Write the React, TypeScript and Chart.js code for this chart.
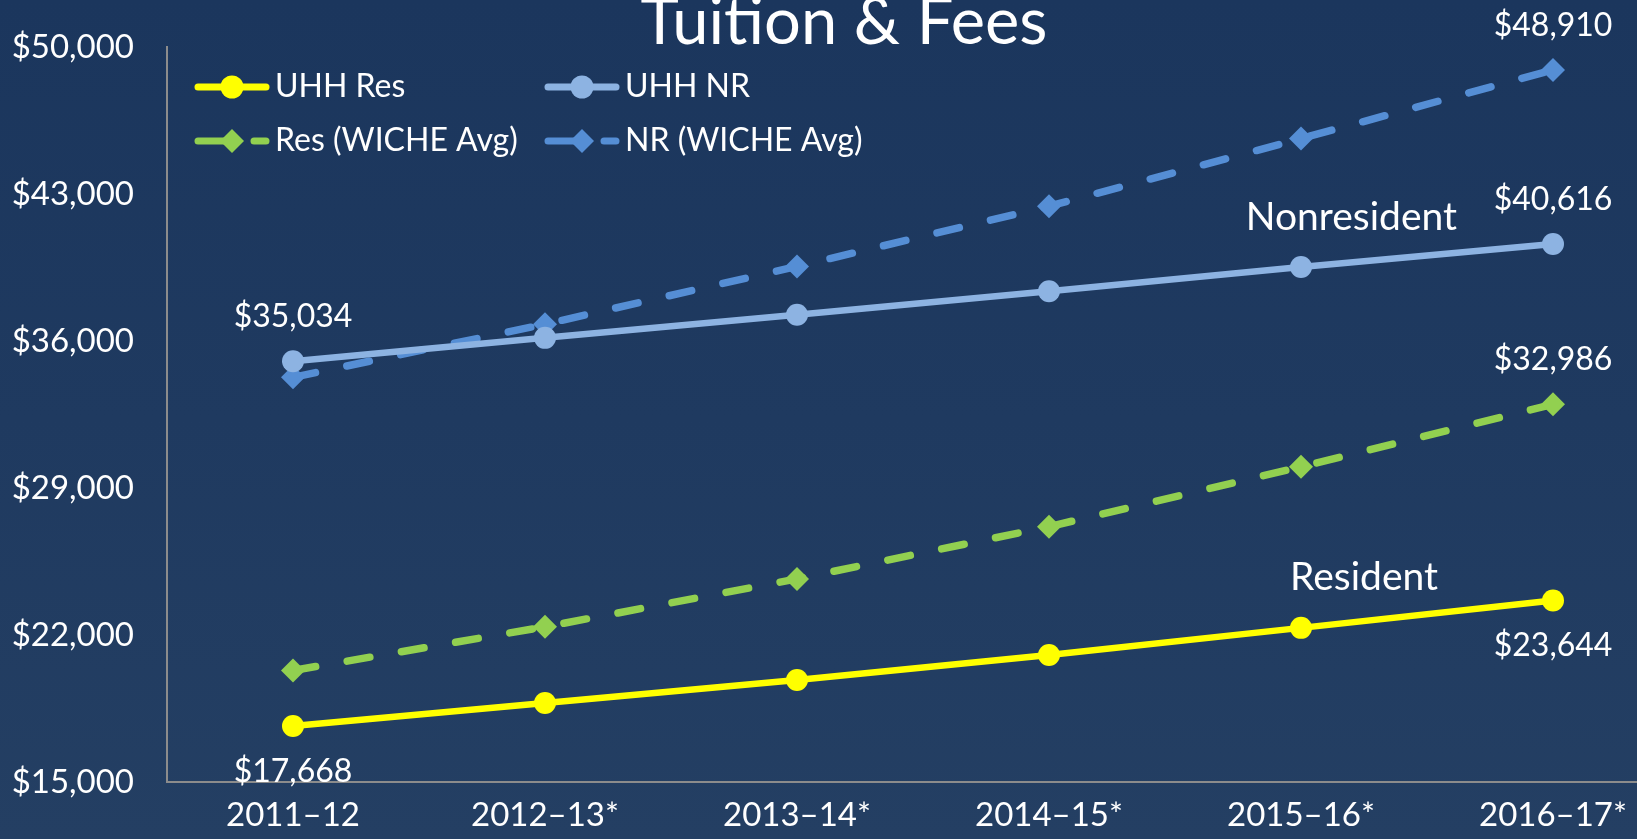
import React, { useEffect, useRef } from "react";
import { Chart, registerables } from "chart.js";

Chart.register(...registerables);

const categories = ["2011–12", "2012–13*", "2013–14*", "2014–15*", "2015–16*", "2016–17*"];
const uhhRes = [17668, 18760, 19860, 21050, 22340, 23644];
const uhhNr = [35034, 36150, 37250, 38370, 39520, 40616];
const resWiche = [20310, 22390, 24670, 27160, 30010, 32986];
const nrWiche = [34270, 36800, 39550, 42420, 45640, 48910];
const seriesNames = ["UHH Res", "UHH NR", "Res (WICHE Avg)", "NR (WICHE Avg)"];
const yMin = 15000;
const yMax = 50000;
const yStep = 7000;
const titleText = "Tuition & Fees";

const FONT = "Lato, 'Open Sans', sans-serif";
const fmt = (v: number) => "$" + v.toLocaleString("en-US");

export default function App() {
  const ref = useRef<HTMLCanvasElement>(null);

  useEffect(() => {
    document.body.style.margin = "0";
    const canvas = ref.current!;
    const toXY = (arr: number[]) => arr.map((y, i) => ({ x: i, y }));

    const overlay = {
      id: "overlay",
      afterDatasetsDraw(chart: any) {
        const ctx = chart.ctx;
        const xs = chart.scales.x;
        const ys = chart.scales.y;
        ctx.save();
        ctx.fillStyle = "#ffffff";

        // title
        ctx.font = `65px ${FONT}`;
        ctx.textAlign = "center";
        ctx.textBaseline = "alphabetic";
        ctx.fillText(titleText, 844, 44);

        // value labels at first / last points
        const labelSpecs = [
          { ds: 0, idx: 0, below: true },
          { ds: 0, idx: 5, below: true },
          { ds: 1, idx: 0, below: false },
          { ds: 1, idx: 5, below: false },
          { ds: 2, idx: 5, below: false },
          { ds: 3, idx: 5, below: false },
        ];
        ctx.font = `32px ${FONT}`;
        labelSpecs.forEach((s) => {
          const v = chart.data.datasets[s.ds].data[s.idx].y;
          const px = xs.getPixelForValue(s.idx);
          const py = ys.getPixelForValue(v);
          ctx.fillText(fmt(v), px, s.below ? py + 56 : py - 34);
        });

        // series annotations
        ctx.font = `39px ${FONT}`;
        ctx.fillText("Nonresident", xs.getPixelForValue(4.2), ys.getPixelForValue(41286));
        ctx.fillText("Resident", xs.getPixelForValue(4.25), ys.getPixelForValue(24143));

        // legend
        const spots = [
          [195, 87],
          [545, 87],
          [195, 141],
          [545, 141],
        ];
        ctx.textAlign = "left";
        ctx.font = `32px ${FONT}`;
        chart.data.datasets.forEach((d: any, i: number) => {
          const [lx, ly] = spots[i];
          const col = d.borderColor;
          ctx.strokeStyle = col;
          ctx.fillStyle = col;
          ctx.lineWidth = 7;
          ctx.lineCap = "round";
          ctx.beginPath();
          if (d.borderDash && d.borderDash.length) {
            ctx.moveTo(lx + 3, ly);
            ctx.lineTo(lx + 40, ly);
            ctx.moveTo(lx + 59, ly);
            ctx.lineTo(lx + 71, ly);
          } else {
            ctx.moveTo(lx + 3, ly);
            ctx.lineTo(lx + 71, ly);
          }
          ctx.stroke();
          const mx = lx + 37;
          ctx.beginPath();
          if (d.pointStyle === "rectRot") {
            ctx.moveTo(mx - 12, ly);
            ctx.lineTo(mx, ly - 12);
            ctx.lineTo(mx + 12, ly);
            ctx.lineTo(mx, ly + 12);
            ctx.closePath();
          } else {
            ctx.arc(mx, ly, 11.5, 0, Math.PI * 2);
          }
          ctx.fill();
          ctx.fillStyle = "#ffffff";
          ctx.textBaseline = "alphabetic";
          ctx.fillText(d.label, lx + 80, ly + 10);
        });
        ctx.restore();
      },
    };

    const solid = (label: string, arr: number[], color: string) => ({
      label,
      data: toXY(arr),
      borderColor: color,
      backgroundColor: color,
      pointBackgroundColor: color,
      pointBorderColor: color,
      borderWidth: 6.5,
      pointRadius: 11,
      pointBorderWidth: 0,
      pointStyle: "circle",
      tension: 0,
    });
    const dashed = (label: string, arr: number[], color: string) => ({
      label,
      data: toXY(arr),
      borderColor: color,
      backgroundColor: color,
      pointBackgroundColor: color,
      pointBorderColor: color,
      borderWidth: 7.5,
      borderDash: [23, 32],
      borderCapStyle: "round",
      pointRadius: 12,
      pointBorderWidth: 0,
      pointStyle: "rectRot",
      tension: 0,
    });

    const chart = new Chart(canvas, {
      type: "line",
      data: {
        datasets: [
          solid(seriesNames[0], uhhRes, "#ffff00"),
          solid(seriesNames[1], uhhNr, "#8db3e2"),
          dashed(seriesNames[2], resWiche, "#92d050"),
          dashed(seriesNames[3], nrWiche, "#558ed5"),
        ] as any,
      },
      options: {
        responsive: false,
        animation: false,
        layout: { autoPadding: false, padding: { top: 47, left: 0, right: 0, bottom: 0 } },
        plugins: {
          legend: { display: false },
          title: { display: false },
          tooltip: { enabled: false },
        },
        scales: {
          x: {
            type: "linear",
            min: -0.5,
            max: 5.3333,
            grid: { display: false, drawTicks: false },
            border: { display: true, color: "#8c8c8c", width: 2 },
            afterBuildTicks: (scale: any) => {
              scale.ticks = categories.map((_, i) => ({ value: i }));
            },
            afterFit: (scale: any) => {
              scale.height = 57;
              scale.paddingLeft = 0;
              scale.paddingRight = 0;
            },
            ticks: {
              autoSkip: false,
              maxRotation: 0,
              padding: 14,
              color: "#ffffff",
              font: { family: FONT, size: 33 },
              callback: (v: any) => categories[v as number] ?? "",
            },
          },
          y: {
            type: "linear",
            min: yMin,
            max: yMax,
            grid: { display: false, drawTicks: false },
            border: { display: true, color: "#8c8c8c", width: 2 },
            afterFit: (scale: any) => {
              scale.width = 167;
              scale.paddingTop = 0;
              scale.paddingBottom = 0;
            },
            ticks: {
              stepSize: yStep,
              padding: 33,
              color: "#ffffff",
              font: { family: FONT, size: 33 },
              callback: (v: any) => fmt(v as number),
            },
          },
        },
      } as any,
      plugins: [overlay],
    });
    return () => chart.destroy();
  }, []);

  return (
    <div
      style={{
        position: "fixed",
        left: 0,
        top: 0,
        width: 1637,
        height: 839,
        overflow: "hidden",
        background: "linear-gradient(180deg, #1b365d 0%, #1f3a60 50%, #243f63 100%)",
      }}
    >
      <canvas ref={ref} width={1637} height={839} style={{ display: "block", width: 1637, height: 839 }} />
    </div>
  );
}
